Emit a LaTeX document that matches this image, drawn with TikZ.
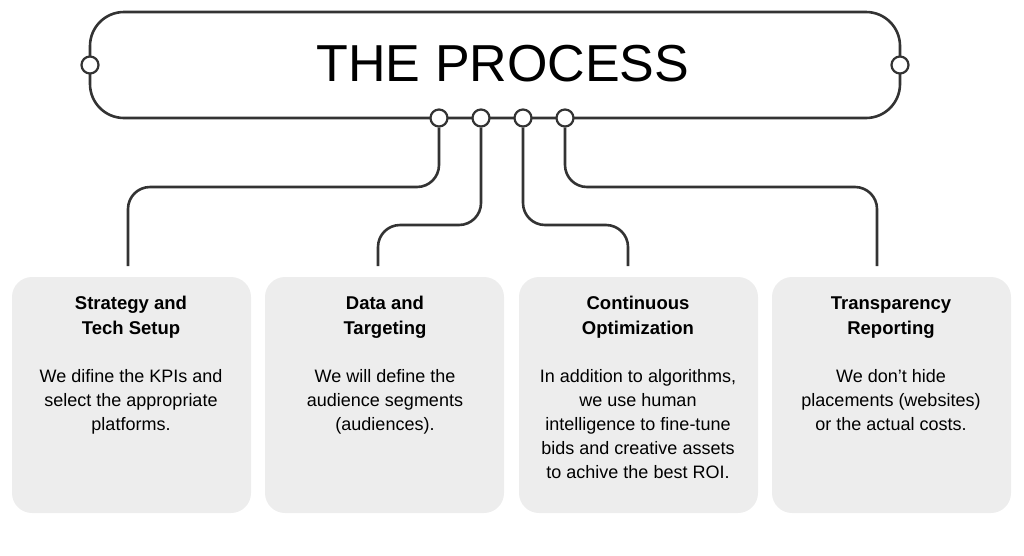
\documentclass[tikz,border=0pt]{standalone}
\usepackage{fontspec}
\setmainfont{Liberation Sans}
\begin{document}
\begin{tikzpicture}[x=1pt,y=-1pt,
  line/.style={draw=black!80,line width=2.6pt,rounded corners=22pt},
  dot/.style={circle,draw=black!80,line width=2.2pt,fill=white,minimum size=17pt,inner sep=0pt},
  card/.style={fill=black!7,rounded corners=20pt},
  ttl/.style={align=center,font=\bfseries\fontsize{18.5}{25}\selectfont,anchor=north},
  txt/.style={align=center,font=\fontsize{18}{24}\selectfont,anchor=north}]
\useasboundingbox (0,0) rectangle (1024,555);
\draw[draw=black!80,line width=2.6pt,rounded corners=34pt] (90,12) rectangle (900,118);
\node[font=\fontsize{52}{58}\selectfont] (title) at (503,64) {THE PROCESS};
\node[dot] (l) at (90,65) {};
\node[dot] (r) at (900,65) {};
\foreach \n/\x in {a/439,b/481,c/523,d/565} \node[dot] (\n) at (\x,118) {};
\coordinate (ea) at (128,266);
\coordinate (eb) at (378,266);
\coordinate (ec) at (628,266);
\coordinate (ed) at (877,266);
\draw[line] (a.south) |- (283,187) -| (ea);
\draw[line] (b.south) |- (430,225) -| (eb);
\draw[line] (c.south) |- (575,225) -| (ec);
\draw[line] (d.south) |- (720,187) -| (ed);
\foreach \n/\x in {1/12,2/265,3/519,4/772}
  \path[card] (\x,277) rectangle ++(239,236) coordinate (k\n);
\node[ttl] (t1) at (131,293) {Strategy and\\Tech Setup};
\node[ttl] (t2) at (385,293) {Data and\\Targeting};
\node[ttl] (t3) at (638,293) {Continuous\\Optimization};
\node[ttl] (t4) at (891,293) {Transparency\\Reporting};
\node[txt] (b1) at (131,366) {We difine the KPIs and\\select the appropriate\\platforms.};
\node[txt] (b2) at (385,366) {We will define the\\audience segments\\(audiences).};
\node[txt] (b3) at (638,366) {In addition to algorithms,\\we use human\\intelligence to fine-tune\\bids and creative assets\\to achive the best ROI.};
\node[txt] (b4) at (891,366) {We don’t hide\\placements (websites)\\or the actual costs.};
\end{tikzpicture}
\end{document}
